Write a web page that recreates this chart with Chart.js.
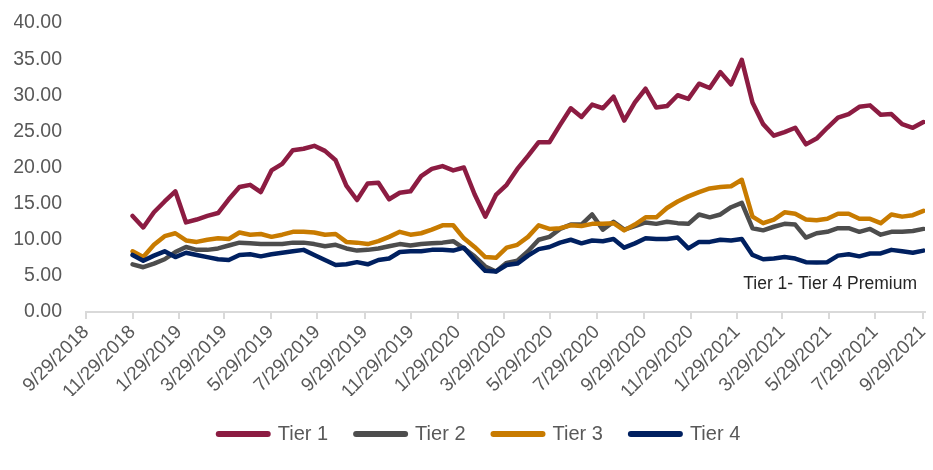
<!DOCTYPE html>
<html>
<head>
<meta charset="utf-8">
<script src="https://cdn.jsdelivr.net/npm/chart.js@4.4.1/dist/chart.umd.min.js"></script>
<style>
  html, body { margin: 0; padding: 0; background: #fff; }
  #wrap { width: 933px; height: 470px; position: relative; }
</style>
</head>
<body>
<div id="wrap"><canvas id="tierChart"></canvas></div>
<script>
// Observation dates (every two weeks)
var obsDates = [
  '11/29/2018', '12/13/2018', '12/27/2018', '1/10/2019', '1/24/2019', '2/7/2019', '2/21/2019', '3/7/2019',
  '3/21/2019', '4/4/2019', '4/18/2019', '5/2/2019', '5/16/2019', '5/30/2019', '6/13/2019', '6/27/2019',
  '7/11/2019', '7/25/2019', '8/8/2019', '8/22/2019', '9/5/2019', '9/19/2019', '10/3/2019', '10/17/2019',
  '10/31/2019', '11/14/2019', '11/28/2019', '12/12/2019', '12/26/2019', '1/9/2020', '1/23/2020', '2/6/2020',
  '2/20/2020', '3/5/2020', '3/19/2020', '4/2/2020', '4/16/2020', '4/30/2020', '5/14/2020', '5/28/2020',
  '6/11/2020', '6/25/2020', '7/9/2020', '7/23/2020', '8/6/2020', '8/20/2020', '9/3/2020', '9/17/2020',
  '10/1/2020', '10/15/2020', '10/29/2020', '11/12/2020', '11/26/2020', '12/10/2020', '12/24/2020', '1/7/2021',
  '1/21/2021', '2/4/2021', '2/18/2021', '3/4/2021', '3/18/2021', '4/1/2021', '4/15/2021', '4/29/2021',
  '5/13/2021', '5/27/2021', '6/10/2021', '6/24/2021', '7/8/2021', '7/22/2021', '8/5/2021', '8/19/2021',
  '9/2/2021', '9/16/2021', '9/30/2021'
];

var tier1 = [
  13.3, 11.7, 13.8, 15.3, 16.7, 12.4, 12.8, 13.3, 13.7, 15.6,
  17.3, 17.6, 16.6, 19.6, 20.5, 22.4, 22.6, 23.0, 22.3, 21.0,
  17.5, 15.5, 17.8, 17.9, 15.6, 16.5, 16.7, 18.8, 19.8, 20.2,
  19.6, 20.0, 16.3, 13.2, 16.2, 17.6, 19.8, 21.6, 23.5, 23.5,
  25.9, 28.2, 27.0, 28.7, 28.2, 29.8, 26.5, 29.0, 30.9, 28.3,
  28.5, 30.0, 29.5, 31.6, 31.0, 33.2, 31.5, 34.9, 29.0, 26.0,
  24.4, 24.9, 25.5, 23.2, 24.0, 25.5, 26.9, 27.4, 28.4, 28.6,
  27.3, 27.4, 26.0, 25.5, 26.3
];

var tier2 = [
  6.6, 6.2, 6.7, 7.3, 8.3, 9.0, 8.6, 8.6, 8.8, 9.2,
  9.6, 9.5, 9.4, 9.4, 9.4, 9.6, 9.6, 9.4, 9.1, 9.3,
  8.8, 8.5, 8.6, 8.8, 9.1, 9.4, 9.2, 9.4, 9.5, 9.6,
  9.8, 8.8, 7.7, 6.3, 5.6, 6.8, 7.1, 8.4, 10.0, 10.4,
  11.5, 12.1, 12.1, 13.5, 11.4, 12.5, 11.4, 11.9, 12.4, 12.2,
  12.5, 12.3, 12.2, 13.5, 13.1, 13.5, 14.5, 15.1, 11.6, 11.3,
  11.8, 12.2, 12.1, 10.3, 10.9, 11.1, 11.6, 11.6, 11.1, 11.5,
  10.7, 11.1, 11.1, 11.2, 11.5
];

var tier3 = [
  8.4, 7.6, 9.3, 10.5, 10.9, 9.9, 9.7, 10.0, 10.2, 10.1,
  11.0, 10.7, 10.8, 10.4, 10.7, 11.1, 11.1, 11.0, 10.7, 10.8,
  9.7, 9.6, 9.4, 9.8, 10.4, 11.1, 10.7, 10.9, 11.4, 12.0,
  12.0, 10.2, 9.0, 7.6, 7.5, 8.9, 9.3, 10.4, 12.0, 11.5,
  11.6, 12.0, 11.9, 12.2, 12.2, 12.3, 11.3, 12.1, 13.1, 13.1,
  14.4, 15.3, 16.0, 16.6, 17.1, 17.3, 17.4, 18.3, 13.2, 12.3,
  12.8, 13.8, 13.6, 12.8, 12.7, 12.9, 13.6, 13.6, 12.9, 12.9,
  12.3, 13.5, 13.2, 13.4, 14.0
];

var tier4 = [
  7.9, 7.1, 7.8, 8.4, 7.6, 8.2, 7.9, 7.6, 7.3, 7.2,
  7.9, 8.0, 7.7, 8.0, 8.2, 8.4, 8.6, 7.9, 7.2, 6.5,
  6.6, 6.9, 6.6, 7.2, 7.4, 8.3, 8.4, 8.4, 8.6, 8.6,
  8.5, 8.9, 7.2, 5.7, 5.6, 6.5, 6.7, 7.8, 8.7, 9.0,
  9.6, 10.0, 9.5, 9.9, 9.8, 10.1, 8.9, 9.5, 10.2, 10.1,
  10.1, 10.3, 8.8, 9.7, 9.7, 10.0, 9.9, 10.1, 7.9, 7.3,
  7.4, 7.6, 7.4, 6.9, 6.85, 6.9, 7.8, 8.0, 7.7, 8.1,
  8.1, 8.6, 8.4, 8.2, 8.5
];

var seriesNames = ['Tier 1', 'Tier 2', 'Tier 3', 'Tier 4'];
var seriesColors = ['#8C1C42', '#4D4D4D', '#C87B00', '#002060'];

// x axis ticks every two months
var tickDates = [
  '9/29/2018', '11/29/2018', '1/29/2019', '3/29/2019', '5/29/2019', '7/29/2019', '9/29/2019',
  '11/29/2019', '1/29/2020', '3/29/2020', '5/29/2020', '7/29/2020', '9/29/2020', '11/29/2020',
  '1/29/2021', '3/29/2021', '5/29/2021', '7/29/2021', '9/29/2021'
];
var axisEnd = '10/2/2021';
var noteText = 'Tier 1- Tier 4 Premium';

var fontFamily = '"Liberation Sans", Arial, sans-serif';

// m/d/yyyy -> day number
function dayNum(s) {
  var p = s.split('/').map(Number);
  return Date.UTC(p[2], p[0] - 1, p[1]) / 86400000;
}

function dayLabel(n) {
  var d = new Date(Math.round(n) * 86400000);
  return (d.getUTCMonth() + 1) + '/' + d.getUTCDate() + '/' + d.getUTCFullYear();
}

function toPoints(values) {
  return values.map(function (v, i) {
    return { x: dayNum(obsDates[i]), y: v };
  });
}

var allSeries = [tier1, tier2, tier3, tier4];
var datasets = allSeries.map(function (vals, i) {
  return {
    label: seriesNames[i],
    data: toPoints(vals),
    borderColor: seriesColors[i],
    backgroundColor: seriesColors[i],
    borderWidth: 4.5,
    borderJoinStyle: 'round',
    borderCapStyle: 'round',
    pointRadius: 0,
    tension: 0,
    order: allSeries.length - i // later tiers drawn on top
  };
});

// Text note inside the plot area
var premiumNote = {
  id: 'premiumNote',
  afterDatasetsDraw: function (chart) {
    var ctx = chart.ctx;
    var area = chart.chartArea;
    ctx.save();
    ctx.font = '17.5px ' + fontFamily;
    ctx.fillStyle = '#262626';
    ctx.textAlign = 'right';
    ctx.textBaseline = 'middle';
    ctx.fillText(noteText, area.right - 8, area.bottom - 28);
    ctx.restore();
  }
};

// nudge the legend row a little to the right
var legendShift = {
  id: 'legendShift',
  afterLayout: function (chart) {
    if (chart.legend) chart.legend.left += 20;
  }
};

var ctx = document.getElementById('tierChart').getContext('2d');

var tierChart = new Chart(ctx, {
  type: 'line',
  data: { datasets: datasets },
  plugins: [premiumNote, legendShift],
  options: {
    responsive: true,
    maintainAspectRatio: false,
    animation: false,
    layout: {
      padding: { top: 23, right: 8, bottom: 16, left: 14 }
    },
    scales: {
      x: {
        type: 'linear',
        min: dayNum(tickDates[0]),
        max: dayNum(axisEnd),
        afterBuildTicks: function (scale) {
          scale.ticks = tickDates.map(function (d) { return { value: dayNum(d) }; });
        },
        afterFit: function (scale) {
          scale.height = 84;
          scale.paddingRight = 0;
          scale.paddingLeft = 0;
        },
        ticks: {
          autoSkip: false,
          minRotation: 45,
          maxRotation: 45,
          padding: 2,
          color: '#595959',
          font: { family: fontFamily, size: 19 },
          callback: function (value) { return dayLabel(value); }
        },
        grid: {
          display: true,
          drawOnChartArea: false,
          drawTicks: true,
          tickLength: 7,
          color: '#D9D9D9',
          lineWidth: 2
        },
        border: { display: true, color: '#D9D9D9', width: 2 }
      },
      y: {
        min: 0,
        max: 40,
        afterFit: function (scale) {
          scale.width = 72;
          scale.paddingTop = 0;
          scale.paddingBottom = 0;
        },
        ticks: {
          stepSize: 5,
          padding: 24,
          color: '#595959',
          font: { family: fontFamily, size: 19.5 },
          callback: function (value) { return value.toFixed(2); }
        },
        grid: { display: false, drawTicks: false },
        border: { display: false }
      }
    },
    plugins: {
      tooltip: { enabled: false },
      legend: {
        position: 'bottom',
        labels: {
          usePointStyle: true,
          pointStyle: 'line',
          pointStyleWidth: 49,
          padding: 28,
          color: '#595959',
          font: { family: fontFamily, size: 20 },
          sort: function (a, b) { return a.datasetIndex - b.datasetIndex; },
          generateLabels: function (chart) {
            var items = Chart.defaults.plugins.legend.labels.generateLabels(chart);
            items.forEach(function (item) {
              item.lineWidth = 6;
              item.lineCap = 'round';
            });
            return items;
          }
        }
      }
    }
  }
});
</script>
</body>
</html>
